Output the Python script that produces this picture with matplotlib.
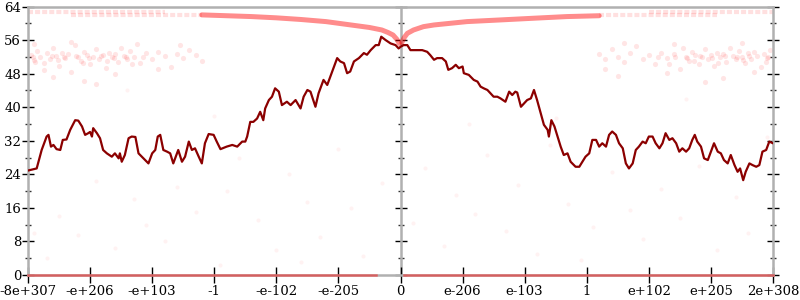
import matplotlib
matplotlib.use("Agg")
import matplotlib.pyplot as plt
import numpy as np

plt.rcParams['font.family'] = ['DejaVu Serif']

# x positions are in "tick units": -6 .. 6, each unit = one labelled tick
tick_pos = [-6, -5, -4, -3, -2, -1, 0, 1, 2, 3, 4, 5, 6]
tick_labels = ["-8e+307", "-e+206", "-e+103", "-1", "-e-102", "-e-205", "0",
               "e-206", "e-103", "1", "e+102", "e+205", "2e+308"]
y_major = [0, 8, 16, 24, 32, 40, 48, 56, 64]

# dark red line (running value)
line_x = [-6.00, -5.86, -5.78, -5.70, -5.67, -5.63, -5.59, -5.54, -5.48, -5.44, -5.38, -5.32,
          -5.24, -5.19, -5.13, -5.08, -5.03, -5.00, -4.97, -4.95, -4.89, -4.84, -4.79, -4.73,
          -4.65, -4.60, -4.54, -4.52, -4.49, -4.44, -4.38, -4.33, -4.27, -4.22, -4.14, -4.06,
          -4.00, -3.95, -3.91, -3.87, -3.82, -3.76, -3.71, -3.66, -3.58, -3.52, -3.47, -3.41,
          -3.36, -3.31, -3.25, -3.20, -3.15, -3.09, -3.01, -2.96, -2.90, -2.80, -2.71, -2.63,
          -2.55, -2.50, -2.47, -2.42, -2.37, -2.31, -2.26, -2.21, -2.18, -2.12, -2.07, -2.02,
          -1.96, -1.91, -1.83, -1.77, -1.69, -1.61, -1.56, -1.50, -1.45, -1.37, -1.32, -1.24,
          -1.18, -1.13, -1.08, -1.02, -0.97, -0.91, -0.86, -0.81, -0.75, -0.67, -0.59, -0.54,
          -0.48, -0.40, -0.35, -0.31, -0.24, -0.16, -0.08, -0.03,
          0.00, 0.05, 0.11, 0.16, 0.24, 0.35, 0.43, 0.48, 0.54, 0.59, 0.67, 0.73, 0.77, 0.83,
          0.89, 0.94, 1.00, 1.02, 1.10, 1.18, 1.24, 1.29, 1.34, 1.40, 1.45, 1.50, 1.56, 1.61,
          1.69, 1.75, 1.80, 1.85, 1.88, 1.94, 1.99, 2.04, 2.10, 2.15, 2.20, 2.26, 2.31, 2.37,
          2.39, 2.43, 2.48, 2.53, 2.58, 2.63, 2.69, 2.74, 2.82, 2.88, 2.93, 2.98, 3.04, 3.09,
          3.15, 3.20, 3.25, 3.31, 3.36, 3.41, 3.47, 3.52, 3.58, 3.63, 3.68, 3.74, 3.79, 3.84,
          3.90, 3.95, 4.00, 4.06, 4.11, 4.17, 4.22, 4.27, 4.33, 4.38, 4.44, 4.49, 4.54, 4.60,
          4.65, 4.70, 4.74, 4.78, 4.84, 4.89, 4.95, 5.00, 5.05, 5.11, 5.16, 5.21, 5.27, 5.32,
          5.38, 5.43, 5.47, 5.52, 5.56, 5.62, 5.67, 5.73, 5.78, 5.83, 5.89, 5.94, 6.00]
line_y = [24.9, 25.4, 29.8, 33.0, 33.4, 30.6, 31.0, 30.0, 29.8, 32.2, 32.3, 34.6,
          36.9, 36.8, 35.4, 33.4, 33.8, 34.1, 33.0, 35.0, 33.8, 32.6, 29.8, 29.0,
          28.2, 29.0, 27.8, 29.0, 27.0, 28.6, 32.6, 33.0, 32.9, 29.0, 27.8, 26.6,
          29.0, 29.8, 33.0, 33.4, 29.8, 29.4, 29.0, 26.6, 29.8, 27.0, 28.2, 31.8,
          29.8, 30.2, 28.2, 26.6, 31.4, 33.6, 33.4, 31.8, 30.0, 30.6, 31.0, 30.6,
          31.8, 31.8, 33.0, 36.5, 36.5, 37.3, 38.9, 36.9, 39.7, 41.7, 42.5, 44.5,
          43.7, 40.5, 41.3, 40.5, 41.7, 39.7, 42.5, 44.1, 43.7, 40.1, 43.3, 46.5,
          45.3, 47.3, 49.3, 51.7, 50.9, 50.5, 48.1, 48.5, 50.9, 51.7, 52.9, 52.5,
          53.6, 54.8, 54.8, 56.8, 56.0, 55.2, 54.8, 54.0,
          54.4, 54.8, 54.8, 53.6, 53.6, 53.6, 53.2, 52.4, 51.3, 51.7, 51.7, 50.9, 48.9, 49.3,
          50.1, 49.3, 49.7, 48.1, 47.7, 46.5, 46.1, 44.9, 44.5, 44.1, 43.3, 42.5, 42.5, 42.1,
          41.3, 43.7, 42.9, 43.7, 43.5, 40.1, 40.9, 41.7, 42.1, 44.1, 41.7, 38.5, 35.8, 34.6,
          33.0, 36.9, 35.4, 33.0, 30.6, 28.6, 29.0, 27.0, 25.8, 25.8, 27.0, 28.2, 29.0, 32.2,
          32.2, 30.6, 31.4, 30.6, 33.4, 34.2, 33.4, 31.4, 30.2, 26.6, 25.4, 26.6, 29.8, 30.6,
          31.8, 31.4, 33.0, 33.0, 31.4, 30.2, 31.4, 33.8, 32.2, 32.6, 31.4, 29.4, 30.2, 29.4,
          30.2, 32.2, 33.4, 31.8, 30.6, 27.8, 27.4, 29.4, 31.4, 29.4, 29.0, 27.4, 26.6, 28.6,
          26.2, 24.6, 25.4, 22.6, 24.6, 26.6, 26.2, 25.8, 26.2, 29.4, 29.8, 31.8, 31.4]

# bright red curve near the top (left and right branches)
curve_left_x = [-3.2, -2.8, -2.4, -2.0, -1.6, -1.2, -0.8, -0.5, -0.3, -0.2, -0.12, -0.06, -0.02]
curve_left_y = [62.0, 61.8, 61.6, 61.3, 60.9, 60.4, 59.6, 59.0, 58.4, 57.8, 57.2, 56.2, 55.2]
curve_right_x = [0.02, 0.06, 0.11, 0.21, 0.37, 0.54, 1.07, 1.61, 2.14, 2.68, 3.2]
curve_right_y = [55.4, 56.6, 57.6, 58.4, 59.2, 59.6, 60.4, 60.8, 61.2, 61.6, 61.8]

# faint rows near the top at the far edges (start, end, value)
rows_x = [(-6.0, -3.8), (-5.3, -3.2), (4.0, 6.0), (3.2, 5.1)]
rows_y = [62.7, 62.0, 62.7, 61.9]

# row at zero
zero_x = [(-6.0, -0.4), (0.05, 6.0)]

# band of points around 52 at both edges
band_x = [-5.95, -5.9, -5.85, -5.8, -5.75, -5.7, -5.65, -5.6, -5.55, -5.5, -5.45, -5.4, -5.35,
          -5.3, -5.25, -5.2, -5.15, -5.1, -5.05, -5.0, -4.95, -4.9, -4.85, -4.8, -4.75, -4.7,
          -4.65, -4.6, -4.55, -4.5, -4.45, -4.4, -4.35, -4.3, -4.2, -4.1, -4.0, -3.9, -3.8,
          -3.7, -3.6, -3.5, -3.4, -3.3, -3.2, -5.6, -5.1, -4.6, -5.9, -5.3, -4.25, -3.55,
          -4.9, -3.9, -5.75, -5.92, -5.62, -5.42, -5.22, -5.02, -4.82, -4.62, -4.42, -4.15,
          -5.88, -5.52, -5.12, -4.72, -4.32,
          3.2, 3.3, 3.4, 3.5, 3.6, 3.7, 3.8, 3.9, 4.0, 4.1, 4.2, 4.3, 4.4, 4.5, 4.55, 4.6,
          4.65, 4.7, 4.75, 4.8, 4.85, 4.9, 4.95, 5.0, 5.05, 5.1, 5.15, 5.2, 5.25, 5.3, 5.35,
          5.4, 5.45, 5.5, 5.55, 5.6, 5.65, 5.7, 5.75, 5.8, 5.85, 5.9, 5.95, 3.5, 4.3, 5.2,
          5.7, 4.9, 3.6, 5.5, 4.4, 3.3, 5.92, 5.62, 5.42, 5.22, 5.02, 4.82, 4.62, 4.42, 4.15,
          5.88, 5.52, 5.12, 4.72, 4.32]
band_y = [52.5, 51.2, 53.5, 52.0, 50.5, 52.8, 51.5, 54.2, 52.2, 49.8, 53.0, 51.8, 52.6,
          48.5, 54.8, 52.0, 51.0, 53.2, 52.4, 50.2, 52.0, 53.8, 51.6, 52.4, 49.4, 53.0,
          51.9, 52.6, 50.8, 54.0, 52.2, 51.4, 53.4, 52.0, 50.6, 52.8, 51.6, 53.2, 52.2,
          49.6, 52.6, 51.8, 53.6, 52.4, 50.9, 47.2, 46.2, 48.0, 55.0, 55.6, 55.0, 54.8,
          45.6, 49.0, 48.8, 52.0, 52.3, 51.9, 52.2, 51.8, 52.1, 51.7, 52.0, 51.9,
          50.8, 51.2, 50.6, 51.0, 50.4,
          52.6, 51.4, 53.8, 52.0, 50.8, 52.8, 54.5, 51.6, 52.4, 50.2, 53.0, 51.8, 52.6,
          49.2, 54.2, 52.0, 51.0, 53.2, 52.4, 50.4, 52.0, 53.8, 51.6, 52.4, 49.8, 53.0,
          51.9, 52.6, 50.8, 54.0, 52.2, 51.4, 53.4, 52.0, 50.6, 52.8, 51.6, 53.2, 52.2,
          49.6, 52.6, 51.8, 53.6, 47.5, 48.2, 47.0, 48.4, 46.0, 55.2, 55.3, 55.0, 49.0,
          52.0, 52.3, 51.9, 52.2, 51.8, 52.1, 51.7, 52.0, 51.9, 50.8, 51.2, 50.6, 51.0, 50.4]

# sparse faint points across the plot
sparse_x = [-5.9, -5.7, -5.5, -5.2, -4.9, -4.6, -4.3, -4.1, -3.8, -3.6, -3.3, -3.0, -2.8,
            -2.6, -2.3, -2.0, -1.8, -1.5, -1.3, -1.0, -0.8, -0.6, -0.3, 0.2, 0.4, 0.7, 0.9,
            1.2, 1.4, 1.7, 1.9, 2.2, 2.4, 2.7, 2.9, 3.1, 3.4, 3.7, 3.9, 4.2, 4.5, 4.8, 5.1,
            5.4, 5.6, 5.9, -2.9, 1.1, -1.6, 2.5, -4.4, 4.6]
sparse_y = [10.0, 4.0, 14.0, 9.5, 22.5, 6.5, 18.0, 12.0, 8.0, 21.0, 15.0, 38.0, 20.0,
            28.0, 13.0, 6.0, 24.0, 17.5, 9.0, 30.0, 16.0, 4.5, 22.0, 12.5, 25.5, 7.0,
            19.0, 14.5, 28.5, 10.5, 21.5, 5.0, 31.0, 17.0, 3.5, 11.5, 24.5, 15.5, 8.5,
            20.5, 13.5, 26.0, 6.0, 18.5, 10.0, 33.0, 2.5, 36.0, 3.0, 37.5, 44.0, 42.0]

RED = '#ff0000'
DARK = '#8b0000'
SPINE = '#b0b0b0'

fig = plt.figure(figsize=(8, 3), dpi=100, facecolor='white')
pos = [28 / 800, 25 / 300, 745 / 800, 268.5 / 300]

# centre vertical axis (at x = 0)
axc = fig.add_axes(pos)
axc.set_ylim(0, 64)
axc.set_xlim(-6, 6)
axc.patch.set_visible(False)
for s in ['top', 'right', 'bottom']:
    axc.spines[s].set_visible(False)
axc.spines['left'].set_position(('axes', 0.5))
axc.spines['left'].set_color(SPINE)
axc.spines['left'].set_linewidth(1.8)
axc.set_yticks(y_major)
axc.set_yticks(np.arange(4, 64, 8), minor=True)
axc.tick_params(axis='y', which='major', direction='inout', length=8, width=1, color='black', labelleft=False)
axc.tick_params(axis='y', which='minor', direction='inout', length=5, width=1, color='#333333')
axc.set_xticks([])

ax = fig.add_axes(pos)
ax.patch.set_visible(False)
ax.set_xlim(-6, 6)
ax.set_ylim(0, 64)
for s in ax.spines.values():
    s.set_color(SPINE)
    s.set_linewidth(1.8)

# faint sparse points
ax.scatter(sparse_x, sparse_y, s=9, color=RED, alpha=0.05, linewidths=0, zorder=2)
# band around 52
ax.scatter(band_x, band_y, s=14, color=RED, alpha=0.1, linewidths=0, zorder=2)
# rows near top
for (x0, x1), yv in zip(rows_x, rows_y):
    ax.plot([x0, x1], [yv, yv], color=RED, alpha=0.12, lw=3.0, dashes=(1.2, 0.5), zorder=2)
# zero row
for (x0, x1) in zero_x:
    ax.plot([x0, x1], [0, 0], color=RED, alpha=0.45, lw=1.8, zorder=3, clip_on=False)
# top curve
ax.plot(curve_left_x, curve_left_y, color=RED, alpha=0.45, lw=3.6, solid_capstyle='round', zorder=3)
ax.plot(curve_right_x, curve_right_y, color=RED, alpha=0.45, lw=3.6, solid_capstyle='round', zorder=3)
# dark line
ax.plot(line_x, line_y, color=DARK, lw=1.6, zorder=4)

ax.set_yticks(y_major)
ax.set_yticks(np.arange(4, 64, 8), minor=True)
ax.yaxis.set_ticks_position('both')
ax.tick_params(axis='y', which='major', direction='inout', length=8, width=1, color='black',
               labelsize=9.5, pad=1, labelright=False)
ax.tick_params(axis='y', which='minor', direction='inout', length=5, width=1, color='#333333')
ax.set_xticks(tick_pos)
ax.set_xticklabels(tick_labels)
ax.tick_params(axis='x', which='major', direction='inout', length=12, width=1, color='black',
               labelsize=9.5, pad=1)

fig.savefig('out.png', dpi=100, facecolor='white')
